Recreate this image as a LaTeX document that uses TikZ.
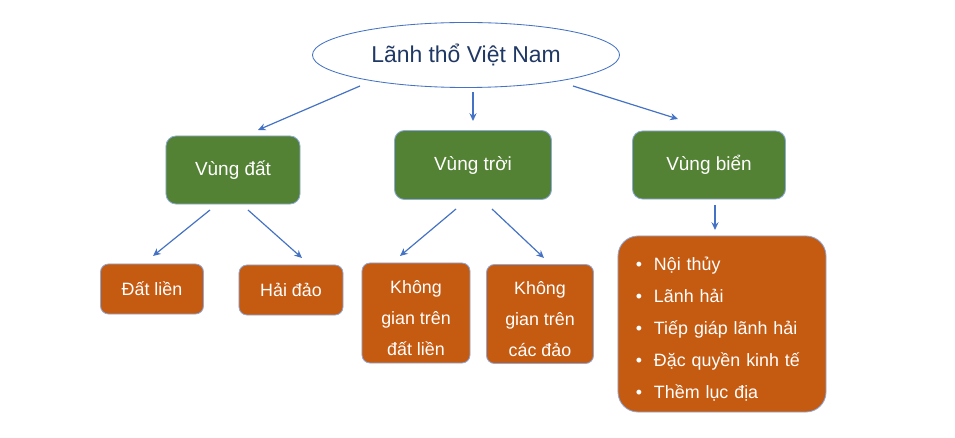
\documentclass[tikz,border=0pt]{standalone}
\usepackage{fontspec}
\setmainfont{Liberation Sans}
\usetikzlibrary{calc,shapes.geometric,arrows.meta}
\definecolor{boxgreen}{HTML}{548235}
\definecolor{boxorange}{HTML}{C55A11}
\definecolor{edgeblue}{HTML}{4472C4}
\definecolor{rimblue}{HTML}{8EA9DB}
\definecolor{titleblue}{HTML}{203864}
\newcommand{\bul}[1]{\makebox[0.45cm][l]{\textbullet}#1}
\newcommand{\lowerstrut}{\rule{0pt}{17pt}}

\begin{document}
\begin{tikzpicture}[
  x=0.025cm, y=-0.025cm,
  zone/.style={rectangle, rounded corners=0.25cm, draw=rimblue, line width=0.6pt,
    fill=boxgreen, text=white, font=\fontsize{13.5}{16}\selectfont, inner sep=0pt},
  part/.style={rectangle, rounded corners=0.2cm, draw=rimblue, line width=0.6pt,
    fill=boxorange, text=white, font=\fontsize{12.7}{22}\selectfont, inner sep=0pt, align=center},
  link/.style={draw=edgeblue, line width=0.85pt, -{Stealth[length=5.5pt,width=5pt]}}
]
  \useasboundingbox (0,0) rectangle (955,438);

  % top level
  \node[ellipse, draw=edgeblue, line width=0.6pt, fill=white, text=titleblue,
    minimum width=7.675cm, minimum height=1.625cm, inner sep=0pt,
    font=\fontsize{16.3}{19}\selectfont] (root) at (466,55) {Lãnh thổ Việt Nam};

  % regions
  \node[zone, minimum width=3.35cm, minimum height=1.7cm] (dat) at (233,170) {Vùng đất};
  \node[zone, minimum width=3.925cm, minimum height=1.725cm] (troi) at (473,165) {Vùng trời};
  \node[zone, minimum width=3.825cm, minimum height=1.7cm] (bien) at (709,165) {Vùng biển};

  % parts
  \node[part, minimum width=2.575cm, minimum height=1.25cm] (lien) at (152,289) {Đất liền};
  \node[part, minimum width=2.6cm, minimum height=1.25cm] (dao) at (291,290) {Hải đảo};
  \node[part, minimum width=2.7cm, minimum height=2.5cm] (kgl) at (416,313) {\lowerstrut Không\\gian trên\\đất liền};
  \node[part, minimum width=2.675cm, minimum height=2.475cm] (kgd) at (540,314) {\lowerstrut Không\\gian trên\\các đảo};
  \node[part, rounded corners=0.5cm, minimum width=5.2cm, minimum height=4.4cm,
    text width=4.3cm, inner xsep=0.45cm, align=left,
    font=\fontsize{12.7}{22.7}\selectfont] (bienlist) at (722,324)
    {\lowerstrut\bul{Nội thủy}\\\bul{Lãnh hải}\\\bul{Tiếp giáp lãnh hải}\\\bul{Đặc quyền kinh tế}\\\bul{Thềm lục địa}};

  % connectors
  \draw[link] ($(root)+(-106,31)$) -- ($(dat)+(25,-40)$);
  \draw[link] ($(root)+(7,37)$) -- ($(troi)+(0,-44)$);
  \draw[link] ($(root)+(107,31)$) -- ($(bien)+(-31,-46)$);
  \draw[link] ($(dat)+(-23,40)$) -- ($(lien)+(1,-33)$);
  \draw[link] ($(dat)+(15,40)$) -- ($(dao)+(11,-32)$);
  \draw[link] ($(troi)+(-17,44)$) -- ($(kgl)+(-16,-57)$);
  \draw[link] ($(troi)+(19,44)$) -- ($(kgd)+(4,-56)$);
  \draw[link] ($(bien)+(6,40)$) -- ($(bienlist)+(-7,-94)$);
\end{tikzpicture}
\end{document}
